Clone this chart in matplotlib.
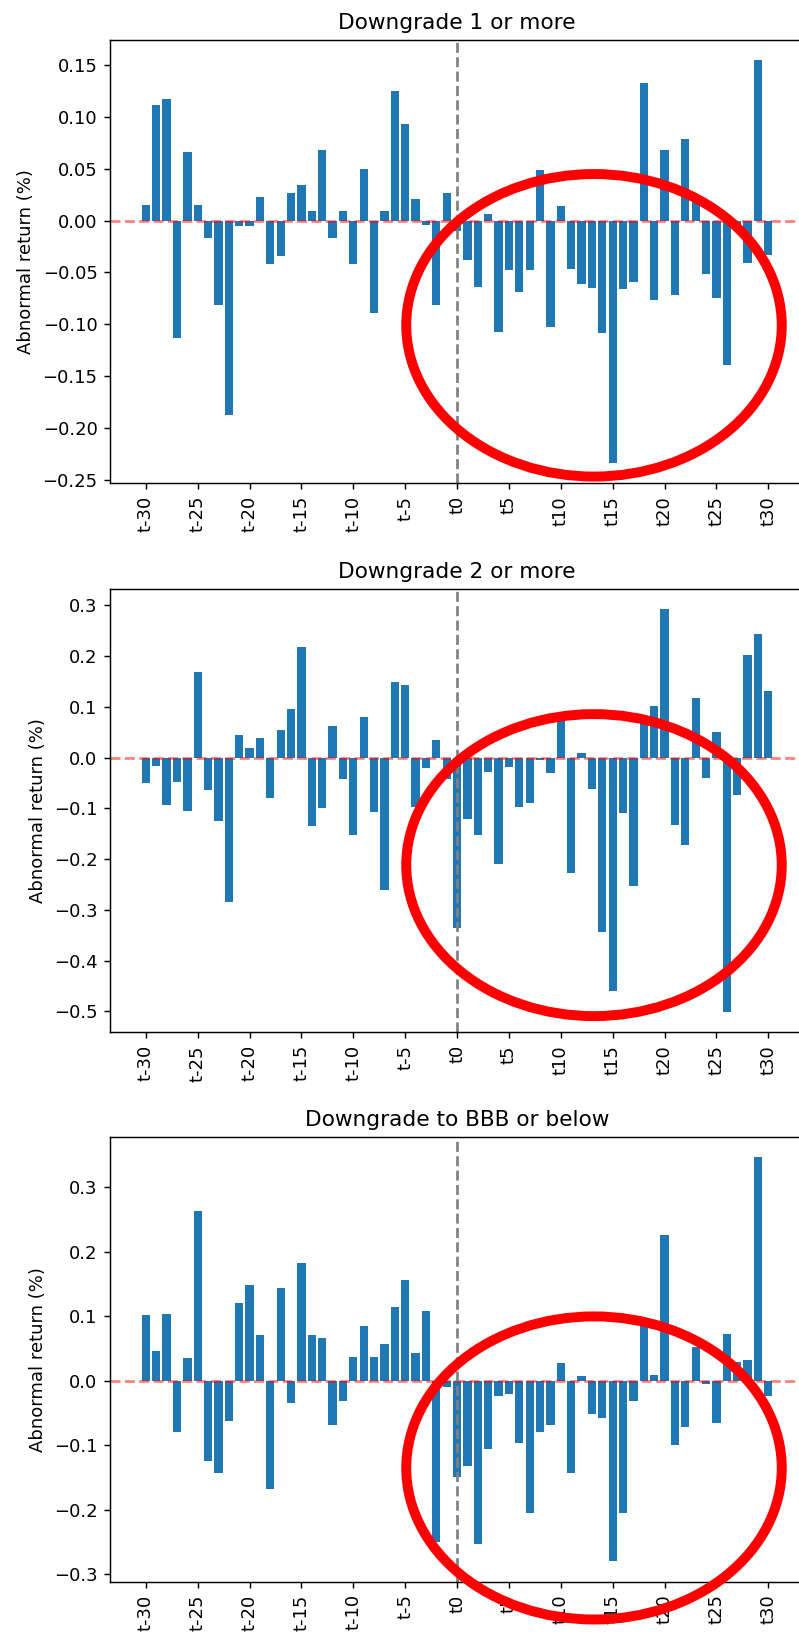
import numpy as np
import matplotlib
matplotlib.use("Agg")
import matplotlib.pyplot as plt
from matplotlib.patches import Ellipse

# event days t-30 .. t30
days = np.arange(-30, 31)
tick_days = np.arange(-30, 31, 5)
tick_labels = ["t%d" % d for d in tick_days]

titles = ["Downgrade 1 or more", "Downgrade 2 or more", "Downgrade to BBB or below"]

# abnormal returns (%), t-30 .. t30
ar_down1 = [0.015, 0.112, 0.117, -0.113, 0.066, 0.015, -0.017, -0.081, -0.188, -0.005,
            -0.005, 0.023, -0.042, -0.034, 0.027, 0.034, 0.009, 0.068, -0.017, 0.009,
            -0.042, 0.050, -0.089, 0.009, 0.125, 0.093, 0.021, -0.004, -0.081, 0.027,
            -0.010,
            -0.038, -0.064, 0.006, -0.107, -0.048, -0.069, -0.048, 0.049, -0.103, 0.014,
            -0.047, -0.061, -0.065, -0.108, -0.234, -0.066, -0.059, 0.133, -0.077, 0.068,
            -0.072, 0.079, 0.018, -0.051, -0.075, -0.139, -0.010, -0.041, 0.155, -0.033]

ar_down2 = [-0.051, -0.016, -0.094, -0.049, -0.106, 0.169, -0.064, -0.125, -0.285, 0.045,
            0.019, 0.038, -0.080, 0.055, 0.096, 0.217, -0.135, -0.100, 0.062, -0.043,
            -0.153, 0.079, -0.108, -0.261, 0.148, 0.142, -0.097, -0.021, 0.035, -0.042,
            -0.335,
            -0.122, -0.153, -0.028, -0.210, -0.019, -0.097, -0.090, -0.005, -0.030, 0.075,
            -0.227, 0.0095, -0.062, -0.343, -0.461, -0.110, -0.254, 0.075, 0.102, 0.292,
            -0.132, -0.172, 0.117, -0.041, 0.051, -0.502, -0.074, 0.202, 0.244, 0.131]

ar_bbb = [0.102, 0.047, 0.103, -0.079, 0.035, 0.263, -0.125, -0.143, -0.062, 0.121,
          0.149, 0.071, -0.168, 0.144, -0.035, 0.183, 0.071, 0.067, -0.068, -0.031,
          0.037, 0.085, 0.037, 0.057, 0.114, 0.157, 0.043, 0.108, -0.250, -0.010,
          -0.149,
          -0.132, -0.253, -0.106, -0.023, -0.021, -0.096, -0.205, -0.080, -0.068, 0.028,
          -0.143, 0.007, -0.052, -0.057, -0.280, -0.205, -0.031, 0.088, 0.009, 0.226,
          -0.100, -0.072, 0.052, -0.005, -0.065, 0.072, 0.030, 0.033, 0.347, -0.024]

series = [ar_down1, ar_down2, ar_bbb]

# hand-drawn red circles: (centre day, centre value, width in days, height in %)
circles = [(13.2, -0.101, 36.2, 0.292),
           (13.2, -0.212, 36.2, 0.595),
           (13.2, -0.135, 36.2, 0.470)]

fig = plt.figure(figsize=(799 / 130, 1637 / 130), dpi=130)
rects = [[0.1379, 0.7048, 0.8683, 0.2708],
         [0.1379, 0.3693, 0.8683, 0.2708],
         [0.1379, 0.0338, 0.8683, 0.2717]]

for rect, title, vals, circ in zip(rects, titles, series, circles):
    ax = fig.add_axes(rect)
    ax.bar(days, vals, color="C0")
    ax.axhline(0, color="red", linestyle="--", alpha=0.5)
    ax.axvline(0, color="grey", linestyle="--")
    ax.set_xticks(tick_days)
    ax.set_xticklabels(tick_labels, rotation=90)
    ax.set_ylabel("Abnormal return (%)")
    ax.set_title(title)
    ell = Ellipse((circ[0], circ[1]), circ[2], circ[3], fill=False,
                  edgecolor="red", linewidth=5.5, clip_on=False, zorder=5)
    ax.add_patch(ell)

fig.savefig("out.png", dpi=130)
